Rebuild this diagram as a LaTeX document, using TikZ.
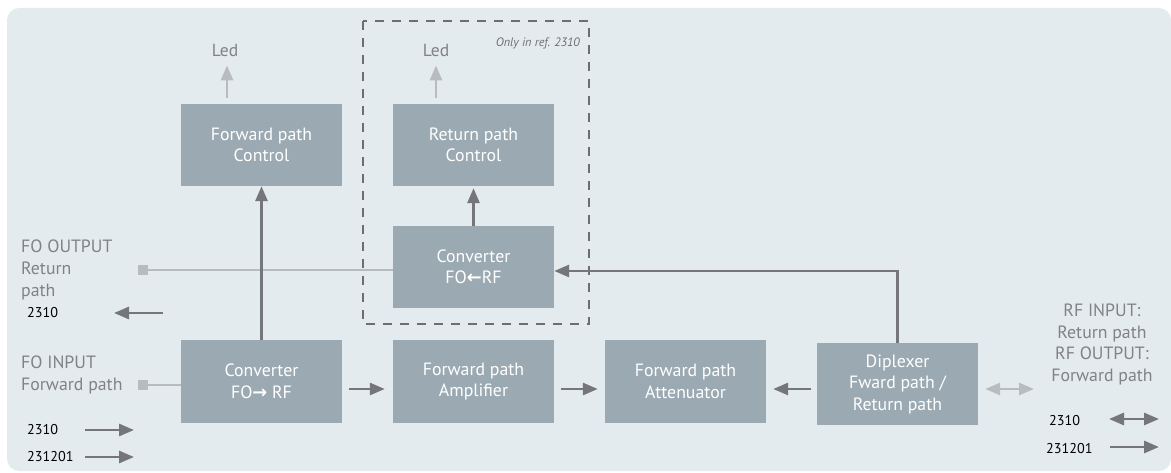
\documentclass[tikz,border=0pt]{standalone}
\usepackage{fontspec}
\setmainfont{PT Sans}
\newfontfamily\symfont{DejaVu Sans}
\usetikzlibrary{arrows.meta,calc}
\definecolor{bgc}{HTML}{E4EBEE}
\definecolor{boxc}{HTML}{9BA9B2}
\definecolor{darkc}{HTML}{747679}
\definecolor{lightc}{HTML}{B9BCBE}
\definecolor{txtc}{HTML}{808285}
\definecolor{dashc}{HTML}{6D6E71}
\tikzset{
  tip/.tip={Triangle[length=15pt,width=12pt]},
  blk/.style={fill=boxc, draw=none, minimum width=161pt, minimum height=82pt, inner sep=0pt,
    text=white, align=center, font=\fontsize{17.8}{21.5}\selectfont},
  arr/.style={draw=darkc, line width=2.8pt, -tip},
  darr/.style={draw=darkc, line width=2.8pt, tip-tip},
  larr/.style={draw=lightc, line width=2.8pt, -tip},
  ldarr/.style={draw=lightc, line width=2.8pt, tip-tip},
  lline/.style={draw=lightc, line width=2.3pt},
  sq/.style={fill=lightc, minimum size=10pt, inner sep=0pt},
  gtxt/.style={text=txtc, font=\fontsize{17.8}{21.8}\selectfont, inner sep=0pt},
  ntxt/.style={text=black, font=\fontsize{14.2}{16}\selectfont, inner sep=0pt, anchor=west},
}
\begin{document}
\begin{tikzpicture}[x=1pt,y=-1pt]
\useasboundingbox (0,0) rectangle (1171,473);
\fill[bgc, rounded corners=12pt] (7,8) rectangle (1171,471);

% dashed region
\draw[dashc, line width=2.2pt, dash pattern=on 9pt off 8pt] (363,21) rectangle (589,324);
\node[text=dashc, font=\itshape\fontsize{12.2}{14}\selectfont, anchor=east, inner sep=0pt] (only) at (580,43) {Only in ref. 2310};

% blocks
\node[blk] (fctl) at (261.5,145) {Forward path\\Control};
\node[blk] (rctl) at (473.5,145) {Return path\\Control};
\node[blk] (convr) at (473.5,267) {Converter\\FO{\symfont\bfseries\char"2190}RF};
\node[blk] (convf) at (261.5,381.5) {Converter\\FO{\symfont\bfseries\char"2192} RF};
\node[blk] (amp) at (473.5,381.5) {Forward path\\Amplifier};
\node[blk] (att) at (685.5,381.5) {Forward path\\Attenuator};
\node[blk] (dip) at (897.5,384) {Diplexer\\Fward path /\\Return path};

% Led
\node[gtxt, font=\fontsize{17.5}{20}\selectfont] (led1) at (225,50) {Led};
\node[gtxt, font=\fontsize{17.5}{20}\selectfont] (led2) at (436,50) {Led};
\draw[larr, shorten <=6pt, shorten >=9pt] (fctl.north -| led1.south) ++(2,0) coordinate (l1a) -- (l1a |- led1.south);
\draw[larr, shorten <=6pt, shorten >=9pt] (rctl.north -| led2.south) -- (led2.south);

% FO output
\node[sq] (fosq) at (143,270) {};
\draw[lline] (fosq) -- (convr.west |- fosq);
\node[gtxt, anchor=west, align=left] (foout) at (21,270) {FO OUTPUT\\Return\\path};

% FO input
\node[sq] (fisq) at (143,385) {};
\draw[lline] (fisq) -- (convf.west |- fisq);
\node[gtxt, anchor=west, align=left] (foin) at (21,375) {FO INPUT\\Forward path};

% vertical links
\draw[arr] (convf.north) -- (fctl.south);
\draw[arr, shorten >=2pt] (convr.north) -- (rctl.south);
\draw[arr] (dip.north) |- ([yshift=-4pt]convr.east);

% forward chain
\draw[arr, shorten <=7pt, shorten >=8pt] ([yshift=-7.5pt]convf.east) -- ([yshift=-7.5pt]amp.west);
\draw[arr, shorten <=7pt, shorten >=7pt] ([yshift=-7.5pt]amp.east) -- ([yshift=-7.5pt]att.west);
\draw[arr, shorten <=6pt, shorten >=7pt] ([yshift=-5pt]dip.west) -- ([yshift=-7.5pt]att.east);

% RF in/out
\node[gtxt, align=center] (rftxt) at (1102,344.5) {RF INPUT:\\Return path\\RF OUTPUT:\\Forward path};
\draw[ldarr, shorten <=7pt] ([yshift=-5pt]dip.east) -- ([yshift=-5pt]dip.east -| 1034,0);

% legend left
\node[ntxt] (l2310a) at (27,313) {2310};
\coordinate (la1) at (163,313);
\coordinate (la2) at (114,313);
\draw[arr] (la1) -- (la2);
\node[ntxt] (l2310b) at (27,430) {2310};
\coordinate (lb1) at (85,430);
\coordinate (lb2) at (134,430);
\draw[arr] (lb1) -- (lb2);
\node[ntxt] (l231201) at (27,457) {231201};
\coordinate (lc1) at (85,457);
\coordinate (lc2) at (134,457);
\draw[arr] (lc1) -- (lc2);

% legend right
\node[ntxt] (r2310) at (1049,421) {2310};
\coordinate (ra1) at (1109,419);
\coordinate (ra2) at (1159,419);
\draw[darr] (ra1) -- (ra2);
\node[ntxt] (r231201) at (1046,449) {231201};
\coordinate (rb1) at (1110,447);
\coordinate (rb2) at (1159,447);
\draw[arr] (rb1) -- (rb2);
\end{tikzpicture}
\end{document}
